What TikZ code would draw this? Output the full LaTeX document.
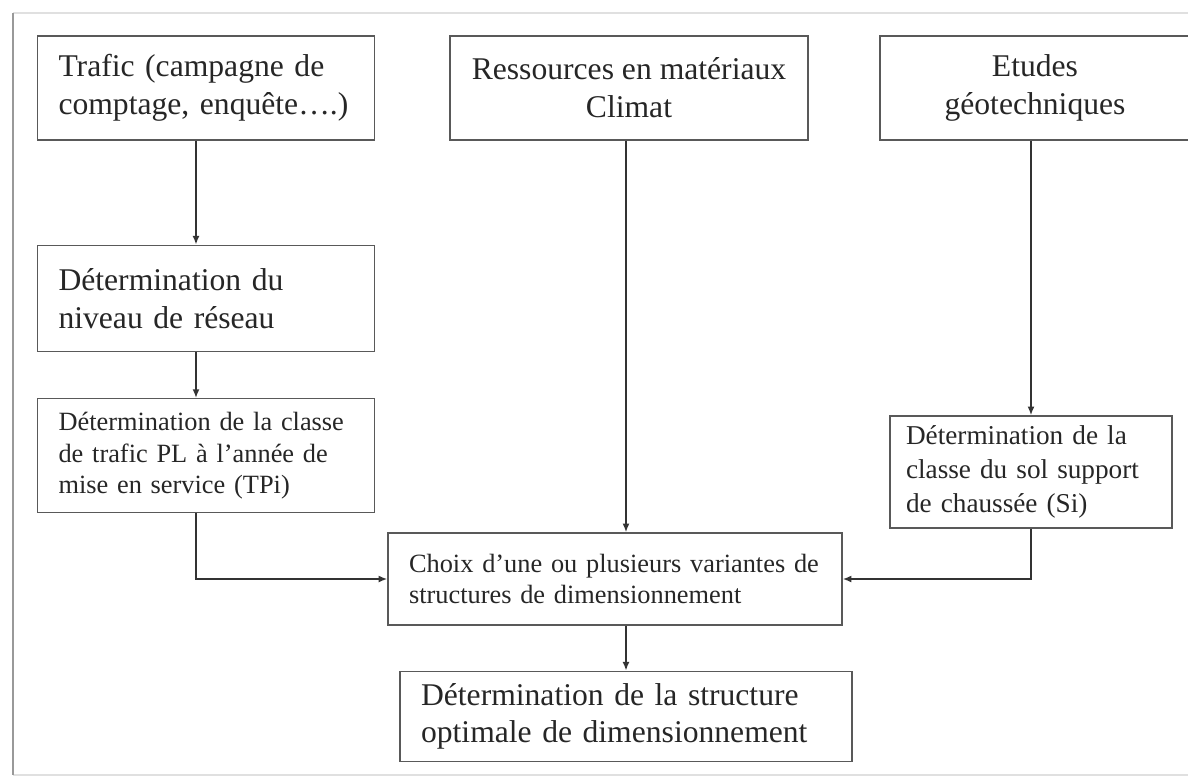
\documentclass[tikz,border=0pt]{standalone}
\usepackage{fontspec}
\setmainfont{Liberation Serif}
\usepackage{xcolor}
\usetikzlibrary{arrows.meta,positioning,calc}

\begin{document}
\begin{tikzpicture}[
  x=0.02cm,y=-0.02cm,
  node distance=2.08cm,
  box/.style={rectangle,draw=black!65,line width=0.8pt,text=black!85,
              inner xsep=0.42cm,inner ysep=2pt,align=left},
  big/.style={font=\fontsize{18}{21.5}\selectfont},
  mid/.style={font=\fontsize{15.5}{19.5}\selectfont},
  small/.style={font=\fontsize{15}{18}\selectfont},
  arr/.style={-{Latex[length=5pt,width=4pt]},black!80,line width=1.1pt}
]
  \useasboundingbox (0,0) rectangle (1188,779);
  % page frame
  \draw[black!12,line width=1pt] (13,13) -- (1188,13);
  \draw[black!12,line width=1pt] (13,775) -- (1188,775);
  \draw[black!40,line width=1.6pt] (13,13) -- (13,775);

  % arrow columns
  \coordinate (colL) at (196,0);
  \coordinate (colM) at (626,0);

  % top row
  \node[box,big,text width=5.9cm,minimum height=2.08cm](traf) at (206,88)
    {Trafic (campagne de\\comptage, enquête….)};
  \node[box,big,align=center,minimum width=7.16cm,minimum height=2.08cm](res) at (629,88)
    {Ressources en matériaux\\Climat};
  \node[box,big,align=center,minimum width=6.2cm,minimum height=2.08cm](etu) at (1035,88)
    {Etudes\\géotechniques};

  % left column
  \node[box,big,text width=5.9cm,minimum height=2.12cm,below=of traf](niv)
    {Détermination du\\niveau de réseau};
  \node[box,small,text width=5.9cm,minimum height=2.28cm,below=0.92cm of niv](dtraf)
    {Détermination de la classe\\de trafic PL à l’année de\\mise en service (TPi)};

  % right column
  \node[box,mid,inner xsep=0.32cm,text width=5.0cm,minimum height=2.24cm](dsol) at (1031,472)
    {Détermination de la\\classe du sol support\\de chaussée (Si)};

  % bottom
  \node[box,small,text width=8.24cm,minimum height=1.84cm](choix) at (615,579)
    {Choix d’une ou plusieurs variantes de\\structures de dimensionnement};
  \node[box,big,text width=8.2cm,minimum height=1.8cm,below=0.9cm of choix,xshift=0.22cm](opt)
    {Détermination de la structure\\optimale de dimensionnement};

  \draw[arr](traf.south -| colL)--(niv.north -| colL);
  \draw[arr](niv.south -| colL)--(dtraf.north -| colL);
  \draw[arr](dtraf.south -| colL)|-(choix.west);
  \draw[arr](res.south -| colM)--(choix.north -| colM);
  \draw[arr](etu.south -| dsol.north)--(dsol.north);
  \draw[arr](dsol.south)|-(choix.east);
  \draw[arr](choix.south -| colM)--(opt.north -| colM);
\end{tikzpicture}
\end{document}
